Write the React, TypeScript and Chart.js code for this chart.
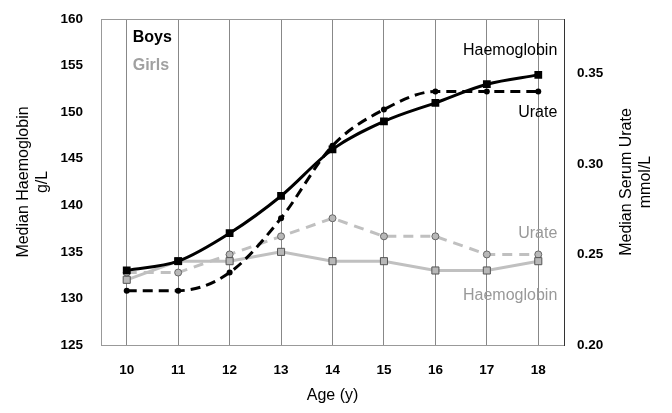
import React, { useEffect, useRef } from 'react';
import { Chart, registerables } from 'chart.js';

Chart.register(...registerables);

// ---- data ----
const ages = ['10', '11', '12', '13', '14', '15', '16', '17', '18'];
const boysHaemoglobin = [133, 134, 137, 141, 146, 149, 151, 153, 154];
const girlsHaemoglobin = [132, 134, 134, 135, 134, 134, 133, 133, 134];
const boysUrate = [0.23, 0.23, 0.24, 0.27, 0.31, 0.33, 0.34, 0.34, 0.34];
const girlsUrate = [0.24, 0.24, 0.25, 0.26, 0.27, 0.26, 0.26, 0.25, 0.25];

const hbAxis = { min: 125, max: 160, step: 5 };
const urateAxis = { min: 0.2, max: 0.38, step: 0.05 };

const leftTitle = ['Median Haemoglobin', 'g/L'];
const rightTitle = ['Median Serum Urate', 'mmol/L'];
const xTitle = 'Age (y)';

// text labels inside the plot (anchored in data space: category index, haemoglobin value)
const annotations = [
  { text: 'Boys', at: 0, value: 158, dx: 6, align: 'left', color: '#000000', bold: true },
  { text: 'Girls', at: 0, value: 155, dx: 6, align: 'left', color: '#a0a0a0', bold: true },
  { text: 'Haemoglobin', at: 8, value: 156.6, dx: 19, align: 'right', color: '#000000', bold: false },
  { text: 'Urate', at: 8, value: 150, dx: 19, align: 'right', color: '#000000', bold: false },
  { text: 'Urate', at: 8, value: 137, dx: 19, align: 'right', color: '#999999', bold: false },
  { text: 'Haemoglobin', at: 8, value: 130.3, dx: 19, align: 'right', color: '#999999', bold: false },
];

const FONT = '"Liberation Sans", Arial, Helvetica, sans-serif';

const overlay = {
  id: 'overlay',
  afterDraw(chart: any) {
    const { ctx, chartArea, scales } = chart;
    const xs = scales.x;
    const ys = scales.y;
    ctx.save();
    // top frame line
    ctx.strokeStyle = '#999999';
    ctx.lineWidth = 1;
    ctx.beginPath();
    ctx.moveTo(chartArea.left, Math.round(chartArea.top) + 0.5);
    ctx.lineTo(chartArea.right, Math.round(chartArea.top) + 0.5);
    ctx.stroke();

    ctx.textBaseline = 'middle';
    for (const a of annotations) {
      ctx.font = `${a.bold ? 'bold ' : ''}16px ${FONT}`;
      ctx.fillStyle = a.color;
      ctx.textAlign = a.align as CanvasTextAlign;
      ctx.fillText(a.text, xs.getPixelForValue(a.at) + a.dx, ys.getPixelForValue(a.value));
    }

    // right axis title, reading bottom-to-top
    const cy = (chartArea.top + chartArea.bottom) / 2;
    ctx.font = `16px ${FONT}`;
    ctx.fillStyle = '#000000';
    ctx.textAlign = 'center';
    rightTitle.forEach((line, i) => {
      ctx.save();
      ctx.translate(chartArea.right + 63 + i * 19, cy);
      ctx.rotate(-Math.PI / 2);
      ctx.fillText(line, 0, 0);
      ctx.restore();
    });
    ctx.restore();
  },
};

export default function App() {
  const canvasRef = useRef<HTMLCanvasElement | null>(null);

  useEffect(() => {
    document.body.style.margin = '0';
    const canvas = canvasRef.current;
    if (!canvas) return;

    const tickFont = { family: FONT, size: 13.5, weight: 'bold' as const };
    const hiddenGrid = (len: number) => ({
      display: true,
      drawOnChartArea: false,
      drawTicks: true,
      tickLength: len,
      color: 'rgba(0,0,0,0)',
      tickColor: 'rgba(0,0,0,0)',
    });

    const chart = new Chart(canvas, {
      type: 'line',
      data: {
        labels: ages,
        datasets: [
          {
            label: 'Boys Haemoglobin',
            data: boysHaemoglobin,
            yAxisID: 'y',
            borderColor: '#000000',
            backgroundColor: '#000000',
            borderWidth: 3,
            pointStyle: 'rect',
            pointRadius: 5.5,
            pointBorderWidth: 0,
            cubicInterpolationMode: 'monotone',
          },
          {
            label: 'Boys Urate',
            data: boysUrate,
            yAxisID: 'y1',
            borderColor: '#000000',
            backgroundColor: '#000000',
            borderWidth: 3,
            borderDash: [10, 6],
            pointStyle: 'circle',
            pointRadius: 3,
            pointBorderWidth: 0,
            cubicInterpolationMode: 'monotone',
          },
          {
            label: 'Girls Haemoglobin',
            data: girlsHaemoglobin,
            yAxisID: 'y',
            borderColor: '#c0c0c0',
            backgroundColor: '#b8b8b8',
            borderWidth: 3,
            pointStyle: 'rect',
            pointRadius: 5,
            pointBorderColor: '#555555',
            pointBorderWidth: 1,
            tension: 0,
          },
          {
            label: 'Girls Urate',
            data: girlsUrate,
            yAxisID: 'y1',
            borderColor: '#c0c0c0',
            backgroundColor: '#b8b8b8',
            borderWidth: 3,
            borderDash: [10, 7],
            pointStyle: 'circle',
            pointRadius: 3.5,
            pointBorderColor: '#666666',
            pointBorderWidth: 1,
            tension: 0,
          },
        ],
      },
      options: {
        animation: false,
        responsive: true,
        maintainAspectRatio: false,
        layout: { padding: { top: 19, left: 0, right: 0, bottom: 0 } },
        plugins: {
          legend: { display: false },
          tooltip: { enabled: false },
        },
        scales: {
          x: {
            type: 'category',
            offset: true,
            grid: { display: true, color: '#888888', lineWidth: 1, drawTicks: false, offset: false },
            border: { display: true, color: '#999999', width: 1 },
            ticks: { color: '#000000', font: tickFont, padding: 17, maxRotation: 0 },
            title: {
              display: true,
              text: xTitle,
              color: '#000000',
              font: { family: FONT, size: 16 },
              padding: { top: 4, bottom: 8 },
            },
            afterFit: (s: any) => { s.height = 68; },
          },
          y: {
            type: 'linear',
            position: 'left',
            min: hbAxis.min,
            max: hbAxis.max,
            grid: hiddenGrid(18),
            border: { display: true, color: '#999999', width: 1 },
            ticks: { stepSize: hbAxis.step, color: '#000000', font: tickFont, padding: 0 },
            title: {
              display: true,
              text: leftTitle,
              color: '#000000',
              font: { family: FONT, size: 16, lineHeight: 1.2 },
              padding: { top: 14, bottom: 0 },
            },
            afterFit: (s: any) => { s.width = 101; },
          },
          y1: {
            type: 'linear',
            position: 'right',
            min: urateAxis.min,
            max: urateAxis.max,
            grid: hiddenGrid(13),
            border: { display: true, color: '#333333', width: 1 },
            ticks: {
              stepSize: urateAxis.step,
              color: '#000000',
              font: tickFont,
              padding: 0,
              callback: (v: any) => {
                const n = Number(v) / urateAxis.step;
                return Math.abs(n - Math.round(n)) < 1e-6 ? Number(v).toFixed(2) : null;
              },
            },
            afterFit: (s: any) => { s.width = 108; },
          },
        },
      },
      plugins: [overlay],
    });

    return () => chart.destroy();
  }, []);

  return (
    <div style={{ position: 'absolute', left: 0, top: 0, width: 672, height: 413 }}>
      <canvas ref={canvasRef} />
    </div>
  );
}
